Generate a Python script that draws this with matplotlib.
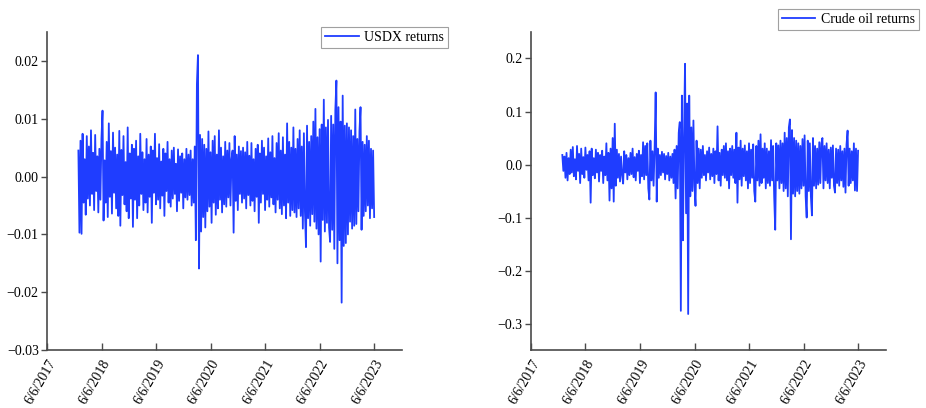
import matplotlib
matplotlib.use("Agg")
import matplotlib.pyplot as plt
import pandas as pd

# Weekly readings of the daily return series
usdx_returns = [
    # 2018
    0.0045, -0.0097, 0.0062, -0.0099, 0.0074, -0.0045, 0.0030, -0.0066, 0.0070, -0.0038, 0.0052, -0.0050, 0.0080,
    -0.0030, 0.0041, -0.0058, 0.0072, -0.0025, 0.0035, -0.0062, 0.0048, -0.0040, 0.0066, 0.0114, -0.0076, 0.0028,
    -0.0045, 0.0060, -0.0070, 0.0092, -0.0035, 0.0044, -0.0064, 0.0076, -0.0028, 0.0050, -0.0055, 0.0038, -0.0068,
    0.0079, -0.0085, 0.0046, -0.0032, 0.0070, -0.0048, 0.0025, -0.0060, 0.0085, -0.0072, 0.0040, -0.0038, 0.0055,
    # 2019
    -0.0087, 0.0048, -0.0040, 0.0062, -0.0072, 0.0035, -0.0050, 0.0074, -0.0030, 0.0042, -0.0058, 0.0030, -0.0045,
    0.0065, -0.0062, 0.0038, -0.0035, 0.0052, -0.0080, 0.0045, -0.0028, 0.0074, -0.0048, 0.0032, -0.0040, 0.0056,
    -0.0055, 0.0026, -0.0033, 0.0048, -0.0068, 0.0040, -0.0025, 0.0060, -0.0045, 0.0030, -0.0052, 0.0045, -0.0038,
    0.0050, -0.0030, 0.0022, -0.0060, 0.0047, -0.0042, 0.0035, -0.0028, 0.0040, -0.0055, 0.0030, -0.0036, 0.0048,
    # 2020
    -0.0040, 0.0038, -0.0032, 0.0045, -0.0050, 0.0030, -0.0045, 0.0052, -0.0110, 0.0160, 0.0210, -0.0159, 0.0072,
    -0.0095, 0.0065, -0.0070, 0.0055, -0.0088, 0.0048, -0.0060, 0.0078, -0.0052, 0.0042, -0.0080, 0.0062, -0.0045,
    0.0070, -0.0066, 0.0038, -0.0055, 0.0080, -0.0040, 0.0050, -0.0062, 0.0035, -0.0048, 0.0060, -0.0052, 0.0045,
    -0.0036, 0.0058, -0.0050, 0.0030, 0.0045, -0.0097, 0.0070, -0.0042, 0.0038, -0.0058, 0.0052, -0.0030, 0.0044,
    # 2021
    -0.0045, 0.0050, -0.0038, 0.0042, -0.0055, 0.0060, -0.0032, 0.0036, -0.0050, 0.0058, -0.0042, 0.0030, -0.0060,
    0.0048, -0.0035, 0.0055, -0.0080, 0.0040, -0.0045, 0.0062, -0.0030, 0.0050, -0.0058, 0.0035, -0.0040, 0.0066,
    -0.0052, 0.0042, -0.0036, 0.0070, -0.0048, 0.0032, -0.0062, 0.0058, -0.0040, 0.0075, -0.0055, 0.0045, -0.0065,
    0.0068, -0.0050, 0.0038, -0.0072, 0.0092, -0.0045, 0.0060, -0.0068, 0.0050, -0.0058, 0.0085, -0.0062, 0.0048,
    # 2022
    -0.0070, 0.0065, -0.0055, 0.0080, -0.0068, 0.0052, -0.0090, 0.0075, -0.0060, -0.0122, 0.0088, -0.0072, 0.0060,
    -0.0085, 0.0070, -0.0065, 0.0095, -0.0078, 0.0117, -0.0090, 0.0068, -0.0100, 0.0082, -0.0147, 0.0090, -0.0075,
    0.0133, -0.0095, 0.0085, -0.0080, 0.0098, -0.0088, -0.0113, 0.0105, -0.0092, 0.0090, -0.0125, 0.0115, 0.0166,
    -0.0150, 0.0120, -0.0110, 0.0095, -0.0218, 0.0140, -0.0120, 0.0088, -0.0115, 0.0092, -0.0100, 0.0085, -0.0078,
    # 2023
    0.0080, -0.0090, 0.0070, -0.0085, 0.0116, -0.0082, 0.0065, -0.0060, 0.0078, 0.0120, -0.0092, 0.0060, -0.0068,
    0.0055, -0.0060, 0.0070, -0.0050, 0.0062, -0.0072, 0.0048, -0.0055, 0.0045, -0.0070,
]

crude_returns = [
    # 2018
    0.018, -0.012, 0.015, -0.025, 0.022, -0.030, 0.012, -0.018, 0.028, -0.015, 0.033, -0.022, 0.010,
    -0.028, 0.035, -0.012, 0.020, -0.035, 0.030, -0.018, 0.014, -0.025, 0.032, -0.010, 0.018, -0.030,
    0.025, -0.072, 0.030, -0.020, 0.012, -0.026, 0.028, -0.015, 0.022, -0.032, 0.018, -0.012, 0.026,
    -0.035, 0.015, -0.020, 0.040, -0.030, 0.022, -0.068, 0.030, -0.045, 0.050, -0.070, 0.077, -0.040,
    # 2019
    0.028, -0.025, 0.020, -0.032, 0.015, -0.020, -0.036, 0.025, -0.015, 0.018, -0.028, 0.012, -0.020,
    0.022, -0.018, 0.030, -0.024, 0.014, -0.030, 0.020, -0.012, 0.026, -0.035, 0.018, -0.022, 0.042,
    -0.028, 0.035, -0.020, 0.040, -0.045, -0.066, 0.045, -0.030, 0.025, -0.040, 0.030, 0.136, -0.070,
    0.030, -0.025, 0.018, -0.020, 0.024, -0.015, 0.020, -0.028, 0.016, -0.018, 0.022, -0.030, 0.015,
    # 2020
    -0.025, 0.020, -0.035, 0.028, -0.064, 0.035, -0.045, 0.060, 0.080, -0.276, 0.130, -0.143, 0.050,
    0.190, -0.092, 0.115, -0.282, 0.130, -0.060, 0.070, -0.050, 0.083, -0.040, -0.078, 0.045, -0.035,
    0.030, -0.045, 0.028, -0.025, 0.035, -0.020, 0.018, -0.030, 0.025, -0.015, 0.032, -0.028, 0.020,
    -0.022, 0.030, -0.035, 0.025, -0.018, 0.072, -0.030, 0.022, -0.040, 0.028, -0.020, 0.035, -0.025,
    # 2021
    0.040, -0.030, 0.025, -0.045, 0.030, -0.020, 0.035, -0.025, 0.028, -0.035, 0.060, -0.072, 0.032,
    -0.028, 0.045, -0.040, 0.030, -0.022, 0.036, -0.030, 0.025, -0.045, 0.040, -0.035, 0.028, -0.025,
    0.038, -0.050, -0.070, 0.035, -0.030, 0.045, -0.040, 0.057, -0.035, 0.030, -0.025, 0.040, -0.045,
    0.030, -0.035, 0.025, -0.040, 0.046, -0.030, 0.035, -0.060, -0.123, 0.040, -0.030, 0.036, -0.045,
    # 2022
    0.045, -0.035, 0.040, -0.050, 0.060, -0.045, 0.050, -0.060, 0.070, 0.085, -0.141, 0.065, -0.055,
    0.050, -0.060, 0.045, -0.050, 0.040, -0.055, 0.035, -0.045, 0.048, -0.040, 0.055, -0.060, -0.100,
    0.045, -0.050, 0.040, -0.060, -0.096, 0.050, -0.040, 0.035, -0.045, 0.030, -0.038, 0.042, -0.035,
    0.040, 0.050, -0.045, 0.035, -0.030, 0.040, -0.035, 0.028, -0.045, 0.032, -0.025, 0.036, -0.040,
    # 2023
    -0.053, 0.030, -0.035, 0.028, -0.040, 0.035, -0.030, 0.025, -0.042, 0.030, -0.053, 0.038, 0.064,
    -0.040, 0.030, -0.035, 0.025, -0.030, 0.040, -0.049, 0.030, -0.050, 0.026,
]

series_start = "2018-01-02"
series_end = "2023-06-06"
tick_dates = ["2017-06-06", "2018-06-06", "2019-06-06", "2020-06-06",
              "2021-06-06", "2022-06-06", "2023-06-06"]
tick_labels = ["6/6/2017", "6/6/2018", "6/6/2019", "6/6/2020",
               "6/6/2021", "6/6/2022", "6/6/2023"]
usdx_yticks = [-0.03, -0.02, -0.01, 0.00, 0.01, 0.02]
crude_yticks = [-0.3, -0.2, -0.1, 0.0, 0.1, 0.2]

usdx_dates = pd.date_range(series_start, series_end, periods=len(usdx_returns))
crude_dates = pd.date_range(series_start, series_end, periods=len(crude_returns))

plt.rcParams["font.family"] = ["Liberation Serif", "DejaVu Serif"]
plt.rcParams["axes.unicode_minus"] = True

LINE_COLOR = "#1f3dff"
SPINE_COLOR = "#4a4a4a"

fig = plt.figure(figsize=(9.26, 4.08), dpi=100)
ax1 = fig.add_axes([0.0508, 0.142, 0.3834, 0.7796])
ax2 = fig.add_axes([0.5734, 0.142, 0.3834, 0.7796])

xmin = pd.Timestamp("2017-06-06")
xmax = pd.Timestamp("2023-12-10")

def style(ax, yticks, fmt, ylim):
    ax.set_xlim(xmin, xmax)
    ax.set_ylim(*ylim)
    for s in ["top", "right"]:
        ax.spines[s].set_visible(False)
    for s in ["left", "bottom"]:
        ax.spines[s].set_color(SPINE_COLOR)
        ax.spines[s].set_linewidth(1.2)
    ax.set_yticks(yticks)
    ax.set_yticklabels([fmt.format(v).replace("-", "\u2212") for v in yticks])
    ax.set_xticks([pd.Timestamp(d) for d in tick_dates])
    ax.set_xticklabels(tick_labels, rotation=60, ha="right", rotation_mode="anchor")
    ax.tick_params(axis="y", direction="out", length=4, width=1.0,
                   color=SPINE_COLOR, labelsize=10, pad=2)
    ax.tick_params(axis="x", direction="in", length=5, width=1.0,
                   color=SPINE_COLOR, labelsize=10, pad=5)

ax1.plot(usdx_dates, usdx_returns, color=LINE_COLOR, lw=1.3, label="USDX returns")
style(ax1, usdx_yticks, "{:.2f}", (-0.03, 0.025))
leg1 = ax1.legend(loc="upper right", bbox_to_anchor=(1.13, 1.016), fontsize=10,
                  fancybox=False, edgecolor="#888888", handlelength=2.4,
                  borderpad=0.3, handletextpad=0.4, borderaxespad=0)
leg1.get_frame().set_linewidth(0.8)

ax2.plot(crude_dates, crude_returns, color=LINE_COLOR, lw=1.3, label="Crude oil returns")
style(ax2, crude_yticks, "{:.1f}", (-0.35, 0.25))
leg2 = ax2.legend(loc="upper right", bbox_to_anchor=(1.093, 1.072), fontsize=10,
                  fancybox=False, edgecolor="#888888", handlelength=2.4,
                  borderpad=0.3, handletextpad=0.4, borderaxespad=0)
leg2.get_frame().set_linewidth(0.8)

fig.savefig("out.png", dpi=100)
